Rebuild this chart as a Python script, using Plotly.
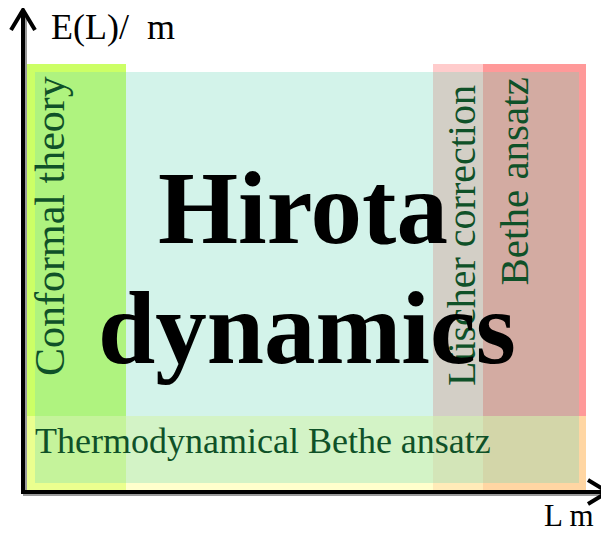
import plotly.graph_objects as go

# Regions of the (L m, E(L)/m) plane, in diagram units (origin at axis corner)
regions = ["Conformal theory", "Lüscher correction", "Bethe ansatz",
           "Thermodynamical Bethe ansatz", "Hirota dynamics"]
L_start = [3, 410, 460, 3, 12]
L_end = [103, 460, 563, 563, 556]
E_start = [1, 1, 1, 1, 9]
E_end = [428, 428, 428, 76, 420]
fill_colors = ["#ccff66", "#ffcccc", "#ff9999", "rgb(255,255,170)", "rgb(108,215,185)"]
fill_opacity = [1.0, 1.0, 1.0, 0.6, 0.3]

# Region labels: centre position and orientation
label_text = ["Conformal theory", "Lüscher correction", "Bethe ansatz"]
label_L = [26.5, 438.5, 490.5]
label_E = [265.5, 256.5, 310]
label_size = [42, 40, 41]

tba_text = "Thermodynamical Bethe ansatz"
tba_L, tba_E = 10, 51.5

hirota_lines = ["Hirota", "dynamics"]
hirota_L = [280, 284]
hirota_E = [284, 164]

x_label = "L m"
y_label = "E(L)/\u00a0\u00a0m"

TEXT_GREEN = "#0f5128"
FONT = "Liberation Serif"

fig = go.Figure()

shapes = []
for i in range(len(regions)):
    shapes.append(dict(type="rect", xref="x", yref="y",
                       x0=L_start[i], x1=L_end[i], y0=E_start[i], y1=E_end[i],
                       fillcolor=fill_colors[i], opacity=fill_opacity[i],
                       line=dict(width=0), layer="below"))

# axes with shadow and arrowheads
for dx, dy, col in [(2, -2, "#9a9a9a"), (0, 0, "black")]:
    shapes.append(dict(type="line", xref="x", yref="y", x0=0 + dx, x1=0 + dx,
                       y0=-2 + dy, y1=481 + dy, line=dict(color=col, width=4)))
    shapes.append(dict(type="line", xref="x", yref="y", x0=-2 + dx, x1=583 + dx,
                       y0=0 + dy, y1=0 + dy, line=dict(color=col, width=4)))
shapes.append(dict(type="path", xref="x", yref="y",
                   path="M -12,462 L 0,482 L 12,462", line=dict(color="black", width=4)))
shapes.append(dict(type="path", xref="x", yref="y",
                   path="M 565,12 L 585,0 L 565,-12", line=dict(color="black", width=4)))

annotations = []
for t, lx, ey, sz in zip(label_text, label_L, label_E, label_size):
    annotations.append(dict(x=lx, y=ey, xref="x", yref="y", text=t, showarrow=False,
                            textangle=-90, xanchor="center", yanchor="middle",
                            font=dict(family=FONT, size=sz, color=TEXT_GREEN)))
annotations.append(dict(x=tba_L, y=tba_E, xref="x", yref="y", text=tba_text, showarrow=False,
                        xanchor="left", yanchor="middle",
                        font=dict(family=FONT, size=36, color=TEXT_GREEN)))
for t, lx, ey in zip(hirota_lines, hirota_L, hirota_E):
    annotations.append(dict(x=lx, y=ey, xref="x", yref="y", text="<b>" + t + "</b>",
                            showarrow=False, xanchor="center", yanchor="middle",
                            font=dict(family=FONT, size=103, color="black")))
annotations.append(dict(x=26, y=465, xref="x", yref="y", text=y_label, showarrow=False,
                        xanchor="left", yanchor="middle",
                        font=dict(family=FONT, size=36, color="black")))
annotations.append(dict(x=520, y=-23, xref="x", yref="y", text=x_label, showarrow=False,
                        xanchor="left", yanchor="middle", borderpad=0,
                        font=dict(family=FONT, size=31, color="black")))

# the page body has an 8px default margin, so the axis windows are offset by it
fig.update_layout(
    width=609, height=536,
    margin=dict(l=0, r=0, t=0, b=0),
    paper_bgcolor="white", plot_bgcolor="white",
    xaxis=dict(range=[-15, 594], visible=False, fixedrange=True),
    yaxis=dict(range=[-52, 484], visible=False, fixedrange=True),
    shapes=shapes, annotations=annotations, showlegend=False,
)

fig.write_html("out.html")
